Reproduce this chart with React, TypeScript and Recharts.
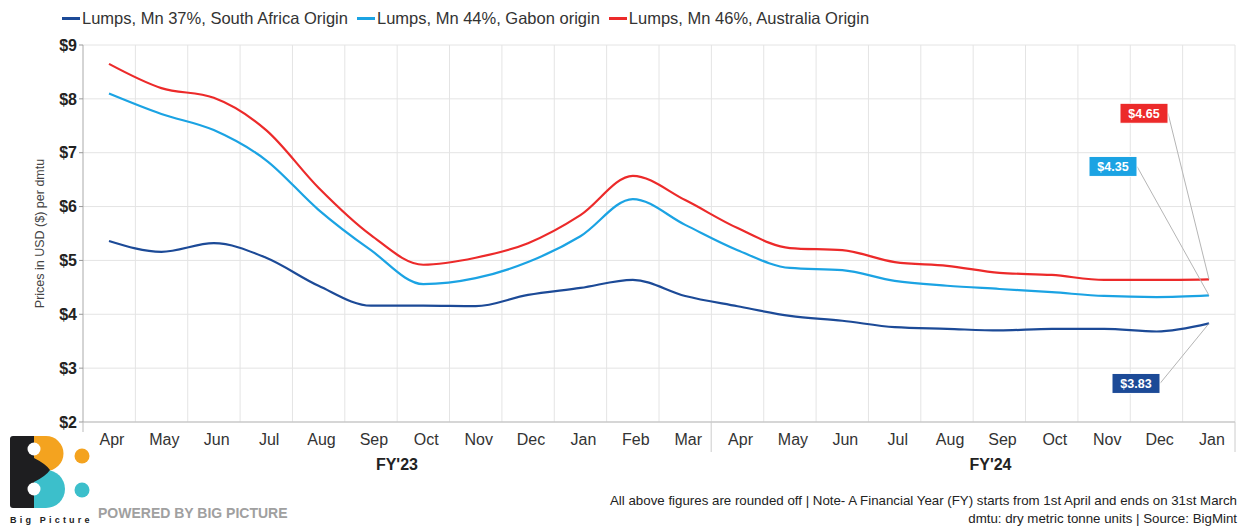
import React from "react";
import { CartesianGrid, Line, LineChart, XAxis, YAxis } from "recharts";

const MONTHS = [
  "Apr", "May", "Jun", "Jul", "Aug", "Sep", "Oct", "Nov", "Dec", "Jan", "Feb", "Mar",
  "Apr", "May", "Jun", "Jul", "Aug", "Sep", "Oct", "Nov", "Dec", "Jan",
];

const SOUTH_AFRICA = [
  5.36, 5.16, 5.32, 5.05, 4.53, 4.16, 4.16, 4.15, 4.36, 4.49, 4.64, 4.34,
  4.15, 3.97, 3.88, 3.76, 3.73, 3.7, 3.73, 3.73, 3.68, 3.83,
];
const GABON = [
  8.1, 7.72, 7.42, 6.86, 5.94, 5.19, 4.56, 4.67, 4.97, 5.45, 6.14, 5.66,
  5.19, 4.86, 4.82, 4.62, 4.53, 4.47, 4.41, 4.34, 4.32, 4.35,
];
const AUSTRALIA = [
  8.65, 8.2, 8.02, 7.42, 6.35, 5.47, 4.92, 5.05, 5.32, 5.84, 6.57, 6.12,
  5.6, 5.23, 5.19, 4.97, 4.9, 4.77, 4.73, 4.64, 4.64, 4.65,
];

const Y_TICKS = [2, 3, 4, 5, 6, 7, 8, 9];

const SERIES = [
  { key: "sa", name: "Lumps, Mn 37%, South Africa Origin", color: "#1c4a97", dx: -73, dy: 60 },
  { key: "gabon", name: "Lumps, Mn 44%, Gabon origin", color: "#1ba3e3", dx: -96, dy: -129 },
  { key: "aus", name: "Lumps, Mn 46%, Australia Origin", color: "#ec2a2a", dx: -65, dy: -166 },
];

const data = MONTHS.map((month, i) => ({
  month,
  sa: SOUTH_AFRICA[i],
  gabon: GABON[i],
  aus: AUSTRALIA[i],
}));

const LAST = MONTHS.length - 1;
const FONT = '"Liberation Sans", Arial, sans-serif';
const HALF_BAND = 26;

function MonthTick(props: any) {
  const { x, y, payload, index } = props;
  return (
    <g>
      <text x={x + 3} y={y + 15} textAnchor="middle" fill="#333" fontSize={16} fontFamily={FONT}>
        {payload.value}
      </text>
      {index === 0 && <line x1={x - HALF_BAND} x2={x - HALF_BAND} y1={y - 8} y2={y + 2} stroke="#bbb" />}
      {(index === 11 || index === LAST) && (
        <line x1={x + HALF_BAND} x2={x + HALF_BAND} y1={y - 8} y2={y + 22} stroke="#ccc" />
      )}
      {index === 5 && (
        <text x={x + HALF_BAND} y={y + 40} textAnchor="middle" fill="#222" fontSize={16} fontWeight={700} fontFamily={FONT}>
          FY'23
        </text>
      )}
      {index === 17 && (
        <text x={x - 9} y={y + 40} textAnchor="middle" fill="#222" fontSize={16} fontWeight={700} fontFamily={FONT}>
          FY'24
        </text>
      )}
    </g>
  );
}

const endLabel = (color: string, dx: number, dy: number) => (props: any) => {
  const { x, y, index, value } = props;
  if (index !== LAST) return null;
  const bx = x + dx;
  const by = y + dy;
  return (
    <g>
      <line x1={bx + 24} y1={by} x2={x} y2={y} stroke="#b5b5b5" strokeWidth={1} />
      <rect x={bx - 24} y={by - 10} width={48} height={20} fill={color} stroke="#fff" strokeWidth={1} />
      <text x={bx} y={by + 4.5} textAnchor="middle" fill="#fff" fontSize={12.5} fontWeight={700} fontFamily={FONT}>
        ${Number(value).toFixed(2)}
      </text>
    </g>
  );
};

function Logo() {
  return (
    <svg width={100} height={100} style={{ position: "absolute", left: 0, top: 428 }}>
      <path d="M26 8 H46 A17.5 17.5 0 0 1 46 43 H26 Z" fill="#f4a31f" />
      <path d="M26 42 H46 A19 19 0 0 1 46 80 H26 Z" fill="#3cbfcb" />
      <path d="M13 8 H34 V30 Q46 36 50 42 Q46 48 34 54 V80 H13 Q10 80 10 77 V11 Q10 8 13 8 Z" fill="#1e1e20" />
      <circle cx={34} cy={21} r={6.5} fill="#fff" />
      <circle cx={34} cy={61} r={6.5} fill="#fff" />
      <circle cx={82} cy={28} r={7.5} fill="#f4a31f" />
      <circle cx={82} cy={62} r={7.5} fill="#3cbfcb" />
      <text x={10} y={95} fontSize={9} fontWeight={700} letterSpacing={3.2} fill="#222" fontFamily={FONT}>
        Big Picture
      </text>
    </svg>
  );
}

export default function App() {
  return (
    <div
      style={{
        position: "absolute",
        left: 0,
        top: 0,
        width: 1241,
        height: 530,
        background: "#fff",
        fontFamily: FONT,
        overflow: "hidden",
      }}
    >
      <div
        style={{
          position: "absolute",
          left: 62,
          top: 9,
          display: "flex",
          alignItems: "center",
          fontSize: 16.5,
          color: "#333",
          whiteSpace: "nowrap",
        }}
      >
        {SERIES.map((s) => (
          <div key={s.key} style={{ display: "flex", alignItems: "center", marginRight: 9 }}>
            <span style={{ display: "inline-block", width: 18, height: 2.5, background: s.color, marginRight: 2 }} />
            <span>{s.name}</span>
          </div>
        ))}
      </div>

      <LineChart width={1241} height={530} data={data} margin={{ top: 45, right: 6, left: 0, bottom: 48 }}>
        <CartesianGrid
          stroke="#e4e4e4"
          verticalCoordinatesGenerator={({ offset }: any) =>
            MONTHS.map((_, i) => offset.left + ((i + 1) * offset.width) / MONTHS.length)
          }
        />
        <XAxis
          dataKey="month"
          padding={{ left: HALF_BAND, right: HALF_BAND }}
          height={60}
          axisLine={{ stroke: "#bbb" }}
          tickLine={false}
          interval={0}
          tick={<MonthTick />}
        />
        <YAxis
          width={83}
          domain={[2, 9]}
          ticks={Y_TICKS}
          interval={0}
          axisLine={{ stroke: "#aaa" }}
          tickLine={{ stroke: "#999" }}
          tickSize={4}
          tickFormatter={(v: number) => `$${v}`}
          tick={{ fill: "#222", fontSize: 16, fontWeight: 700, fontFamily: FONT }}
          label={{
            value: "Prices in USD ($) per dmtu",
            angle: -90,
            position: "center",
            dx: -2,
            style: { fill: "#444", fontSize: 12.5, fontFamily: FONT },
          }}
        />
        {SERIES.map((s) => (
          <Line
            key={s.key}
            type="monotone"
            dataKey={s.key}
            name={s.name}
            stroke={s.color}
            strokeWidth={2.2}
            dot={false}
            isAnimationActive={false}
            label={endLabel(s.color, s.dx, s.dy)}
          />
        ))}
      </LineChart>

      <Logo />
      <div
        style={{
          position: "absolute",
          left: 98,
          top: 505,
          fontSize: 14,
          fontWeight: 700,
          color: "#a0a0a0",
        }}
      >
        POWERED BY BIG PICTURE
      </div>
      <div
        style={{
          position: "absolute",
          right: 4,
          top: 492,
          fontSize: 13.3,
          lineHeight: "18px",
          color: "#222",
          textAlign: "right",
        }}
      >
        <div>All above figures are rounded off | Note- A Financial Year (FY) starts from 1st April and ends on 31st March</div>
        <div>dmtu: dry metric tonne units | Source: BigMint</div>
      </div>
    </div>
  );
}
